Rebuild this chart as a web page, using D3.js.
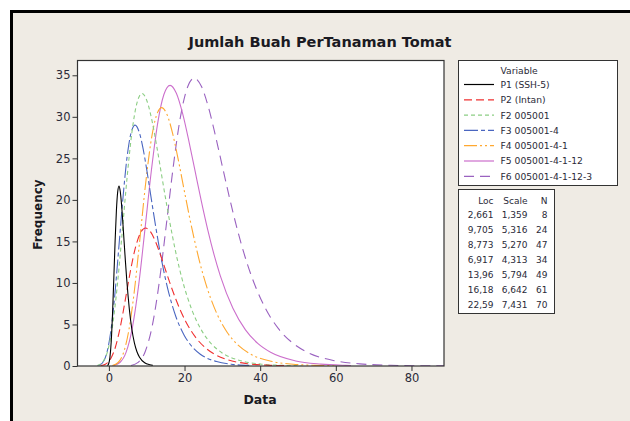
<!DOCTYPE html>
<html>
<head>
<meta charset="utf-8">
<script src="https://cdn.jsdelivr.net/npm/d3@7"></script>
<style>
  body { margin: 0; background: #fff; }
  svg { display: block; font-family: "DejaVu Sans", Verdana, sans-serif; }
</style>
</head>
<body>
<svg id="chart" width="630" height="421"></svg>
<script>
// fitted curves, [data, frequency]
var p1 = [[-0.40,0.04],[-0.06,0.27],[0.28,1.07],[0.62,2.98],[0.96,6.27],[1.30,10.56],[1.64,15.00],[1.98,18.66],[2.32,20.93],[2.66,21.66],[3.00,21.04],[3.34,19.47],[3.68,17.34],[4.02,14.99],[4.36,12.66],[4.70,10.51],[5.04,8.60],[5.38,6.96],[6.06,4.45],[6.74,2.79],[7.42,1.72],[8.10,1.06],[9.46,0.39],[10.81,0.15],[11.60,0.08]];
var p2 = [[-2.25,0.03],[-0.93,0.21],[0.40,0.82],[1.73,2.29],[3.06,4.81],[4.39,8.10],[5.72,11.51],[7.05,14.31],[8.38,16.05],[9.71,16.61],[11.03,16.14],[12.36,14.93],[13.69,13.30],[15.02,11.50],[16.35,9.71],[17.68,8.06],[19.01,6.59],[20.34,5.34],[22.99,3.41],[25.66,2.14],[28.32,1.32],[30.97,0.81],[36.29,0.30],[41.60,0.11],[46.92,0.04]];
var f2 = [[-3.09,0.07],[-1.77,0.41],[-0.45,1.62],[0.86,4.52],[2.18,9.49],[3.50,16.00],[4.82,22.73],[6.13,28.28],[7.45,31.71],[8.77,32.81],[10.09,31.88],[11.41,29.50],[12.72,26.27],[14.04,22.71],[15.36,19.19],[16.68,15.92],[17.99,13.03],[19.31,10.54],[21.95,6.75],[24.58,4.23],[27.22,2.61],[29.85,1.60],[35.12,0.60],[40.39,0.22],[45.66,0.08],[50.93,0.03]];
var f3 = [[-2.78,0.06],[-1.71,0.36],[-0.63,1.44],[0.45,4.00],[1.53,8.39],[2.60,14.14],[3.69,20.09],[4.76,24.99],[5.84,28.03],[6.92,29.00],[8.00,28.18],[9.08,26.07],[10.15,23.22],[11.23,20.07],[12.31,16.96],[13.39,14.07],[14.47,11.51],[15.55,9.32],[17.70,5.96],[19.86,3.74],[22.02,2.31],[24.17,1.42],[28.49,0.53],[32.80,0.19],[37.11,0.07]];
var f4 = [[0.92,0.06],[2.37,0.39],[3.82,1.54],[5.27,4.29],[6.72,9.00],[8.17,15.17],[9.61,21.55],[11.06,26.81],[12.51,30.07],[13.96,31.11],[15.41,30.23],[16.86,27.97],[18.31,24.91],[19.75,21.54],[21.20,18.19],[22.65,15.10],[24.10,12.35],[25.55,10.00],[28.45,6.40],[31.34,4.01],[34.24,2.48],[37.14,1.52],[42.93,0.57],[48.72,0.21],[54.52,0.08],[60.31,0.03]];
var f5 = [[1.24,0.07],[2.90,0.42],[4.56,1.67],[6.22,4.66],[7.88,9.77],[9.54,16.48],[11.20,23.41],[12.86,29.12],[14.52,32.66],[16.18,33.79],[17.84,32.83],[19.50,30.38],[21.16,27.05],[22.82,23.39],[24.48,19.76],[26.14,16.39],[27.80,13.41],[29.46,10.86],[32.79,6.95],[36.11,4.35],[39.43,2.69],[42.75,1.65],[49.39,0.61],[56.03,0.23],[62.67,0.08],[64.00,0.06]];
var f6 = [[5.87,0.07],[7.73,0.43],[9.59,1.72],[11.44,4.78],[13.30,10.03],[15.16,16.90],[17.02,24.01],[18.87,29.87],[20.73,33.50],[22.59,34.66],[24.45,33.67],[26.31,31.16],[28.16,27.75],[30.02,23.99],[31.88,20.27],[33.74,16.81],[35.59,13.76],[37.45,11.14],[41.17,7.13],[44.88,4.46],[48.60,2.76],[52.31,1.69],[59.75,0.63],[67.18,0.23],[74.61,0.09],[82.04,0.03],[88.60,0.01]];

var seriesNames = ["P1 (SSH-5)", "P2 (Intan)", "F2 005001", "F3 005001-4", "F4 005001-4-1", "F5 005001-4-1-12", "F6 005001-4-1-12-3"];
var locValues = ["2,661", "9,705", "8,773", "6,917", "13,96", "16,18", "22,59"];
var scaleValues = ["1,359", "5,316", "5,270", "4,313", "5,794", "6,642", "7,431"];
var nValues = ["8", "24", "47", "34", "49", "61", "70"];
var xTicks = [0, 20, 40, 60, 80];
var yTicks = [0, 5, 10, 15, 20, 25, 30, 35];

var allSeries = [p1, p2, f2, f3, f4, f5, f6];
var colors = ["#000000", "#f03030", "#8cce84", "#4a66c0", "#ffa830", "#cc6fcc", "#9a62c0"];
var dashes = [null, "8,4", "4,3", "14,3,4,3", "13,3,2,3,2,3", null, "10,6"];

var svg = d3.select("#chart");
var bg = "#efebe4";

// outer frame (runs off the right and bottom)
svg.append("rect")
  .attr("x", 11.5).attr("y", 11.5)
  .attr("width", 640).attr("height", 430)
  .attr("fill", bg)
  .attr("stroke", "#000")
  .attr("stroke-width", 3);

var margin = {left: 77.5, right: 444, top: 60.5, bottom: 366};

var x = d3.scaleLinear().domain([-8.3, 88.6]).range([margin.left, margin.right]);
var y = d3.scaleLinear().domain([0, 36.78]).range([margin.bottom, margin.top]);

svg.append("rect")
  .attr("x", margin.left).attr("y", margin.top)
  .attr("width", margin.right - margin.left)
  .attr("height", margin.bottom - margin.top)
  .attr("fill", "#fff");

svg.append("clipPath").attr("id", "clip")
  .append("rect")
  .attr("x", margin.left).attr("y", margin.top - 2)
  .attr("width", margin.right - margin.left)
  .attr("height", margin.bottom - margin.top + 2);

var line = d3.line()
  .x(function(d) { return x(d[0]); })
  .y(function(d) { return y(d[1]); })
  .curve(d3.curveMonotoneX);

var curves = svg.append("g").attr("clip-path", "url(#clip)");
for (var i = allSeries.length - 1; i >= 0; i--) {
  curves.append("path")
    .datum(allSeries[i])
    .attr("fill", "none")
    .attr("stroke", colors[i])
    .attr("stroke-width", 1.1)
    .attr("stroke-dasharray", dashes[i])
    .attr("d", line);
}

// plot box
svg.append("rect")
  .attr("x", margin.left).attr("y", margin.top)
  .attr("width", margin.right - margin.left)
  .attr("height", margin.bottom - margin.top)
  .attr("fill", "none")
  .attr("stroke", "#333")
  .attr("stroke-width", 1.2);

var xAxis = d3.axisBottom(x).tickValues(xTicks).tickSize(5).tickPadding(3);
var yAxis = d3.axisLeft(y).tickValues(yTicks).tickSize(5).tickPadding(2);

var gx = svg.append("g")
  .attr("transform", "translate(0," + margin.bottom + ")")
  .call(xAxis);
var gy = svg.append("g")
  .attr("transform", "translate(" + margin.left + ",0)")
  .call(yAxis);

[gx, gy].forEach(function(g) {
  g.select(".domain").remove();
  g.selectAll("line").attr("stroke", "#333");
  g.selectAll("text")
    .attr("fill", "#2a2a38")
    .style("font-size", "11.5px")
    .style("font-family", "DejaVu Sans, sans-serif");
});

svg.append("text")
  .attr("x", 320).attr("y", 47)
  .attr("text-anchor", "middle")
  .attr("font-weight", "bold")
  .attr("fill", "#1a1a22")
  .style("font-size", "14.5px")
  .text("Jumlah Buah PerTanaman Tomat");

svg.append("text")
  .attr("x", 260).attr("y", 404)
  .attr("text-anchor", "middle")
  .attr("font-weight", "bold")
  .attr("fill", "#1a1a22")
  .style("font-size", "12.5px")
  .text("Data");

svg.append("text")
  .attr("transform", "translate(42,214.5) rotate(-90)")
  .attr("text-anchor", "middle")
  .attr("font-weight", "bold")
  .attr("fill", "#1a1a22")
  .style("font-size", "12px")
  .text("Frequency");

// legend
var leg = svg.append("g");
leg.append("rect")
  .attr("x", 458.5).attr("y", 60.5)
  .attr("width", 159).attr("height", 125)
  .attr("fill", "#fff")
  .attr("stroke", "#333");
leg.append("text")
  .attr("x", 500.5).attr("y", 74)
  .attr("fill", "#2a2a38")
  .style("font-size", "9.2px")
  .text("Variable");
seriesNames.forEach(function(name, i) {
  var cy = 84.5 + i * 15.3;
  leg.append("line")
    .attr("x1", 464).attr("x2", 494)
    .attr("y1", cy).attr("y2", cy)
    .attr("stroke", colors[i])
    .attr("stroke-width", 1.2)
    .attr("stroke-dasharray", dashes[i]);
  leg.append("text")
    .attr("x", 500.5).attr("y", cy + 3.4)
    .attr("fill", "#2a2a38")
    .style("font-size", "9.2px")
    .text(name);
});

// parameter table
var tab = svg.append("g");
tab.append("rect")
  .attr("x", 458.5).attr("y", 189.5)
  .attr("width", 96).attr("height", 124)
  .attr("fill", "#fff")
  .attr("stroke", "#333");
var cols = [{x: 493.5, h: "Loc", v: locValues}, {x: 527.5, h: "Scale", v: scaleValues}, {x: 547.5, h: "N", v: nValues}];
cols.forEach(function(c) {
  tab.append("text")
    .attr("x", c.x).attr("y", 204)
    .attr("text-anchor", "end")
    .attr("fill", "#2a2a38")
    .style("font-size", "9px")
    .text(c.h);
  c.v.forEach(function(v, i) {
    tab.append("text")
      .attr("x", c.x).attr("y", 217.7 + i * 15)
      .attr("text-anchor", "end")
      .attr("fill", "#2a2a38")
      .style("font-size", "9px")
      .text(v);
  });
});
</script>
</body>
</html>
